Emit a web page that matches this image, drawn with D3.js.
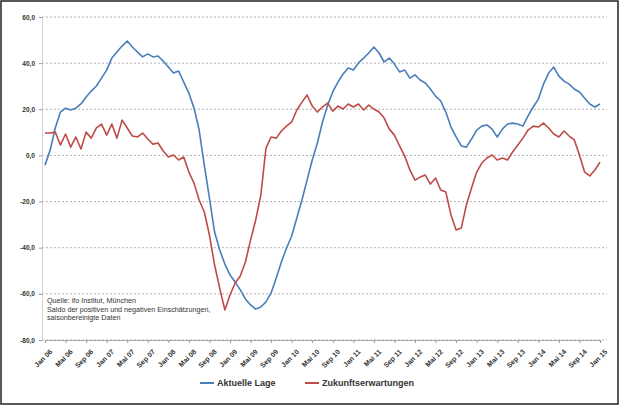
<!DOCTYPE html>
<html>
<head>
<meta charset="utf-8">
<script src="https://cdn.jsdelivr.net/npm/d3@7"></script>
<style>
  html, body { margin: 0; padding: 0; background: #fff; }
  svg { display: block; }
</style>
</head>
<body>
<svg id="chart" width="619" height="405"></svg>
<script>
// Monatswerte Januar 2006 bis Januar 2015
const startYear = 2006;
const monthNames = ["Jan", "Feb", "Mrz", "Apr", "Mai", "Jun", "Jul", "Aug", "Sep", "Okt", "Nov", "Dez"];

const aktuelleLage = [
  -4.2, 2.3, 11.9, 18.8, 20.5, 19.7, 20.5, 22.3, 25.3, 27.9, 30.1, 33.5,
  37.0, 42.2, 44.8, 47.4, 49.6, 47.0, 44.8, 42.7, 44.0, 42.7, 43.1, 40.9,
  38.3, 35.7, 36.6, 31.8, 27.0, 20.5, 11.0, -4.2, -18.5, -33.2, -41.0, -47.1,
  -51.8, -54.9, -58.3, -62.2, -64.8, -66.6, -65.7, -63.5, -59.6, -53.1, -46.2, -40.1,
  -34.9, -27.1, -19.3, -10.7, -2.0, 5.4, 14.5, 21.8, 27.5, 31.8, 35.3, 37.9,
  37.0, 40.1, 42.2, 44.4, 47.0, 44.4, 40.5, 42.2, 39.6, 36.2, 37.0, 33.5,
  34.9, 32.7, 31.4, 28.8, 25.7, 23.6, 18.8, 12.3, 8.0, 4.1, 3.6, 7.1,
  11.0, 12.7, 13.2, 11.4, 8.0, 11.4, 13.6, 14.0, 13.6, 12.7, 17.1, 21.0,
  24.4, 30.9, 35.7, 38.3, 34.4, 32.2, 30.9, 28.8, 27.5, 24.9, 22.3, 21.0,
  22.3
];

const zukunftserwartungen = [
  9.7, 9.7, 10.1, 4.5, 9.3, 3.6, 8.0, 2.8, 10.1, 7.5, 11.9, 13.6,
  8.8, 13.6, 7.5, 15.3, 11.9, 8.4, 8.0, 9.7, 7.1, 4.9, 5.4, 1.9,
  -0.7, 0.2, -2.0, -0.7, -7.2, -12.0, -19.3, -24.5, -34.5, -47.5, -57.5, -67.0,
  -60.5, -55.3, -52.3, -46.2, -36.7, -28.0, -17.2, 3.2, 8.0, 7.5, 10.6, 12.7,
  14.5, 19.7, 23.1, 26.2, 21.4, 18.8, 21.0, 22.7, 19.2, 21.4, 20.1, 22.3,
  21.0, 22.3, 19.7, 21.8, 20.1, 18.8, 16.2, 11.4, 8.8, 4.1, -0.3, -6.3,
  -10.7, -9.4, -8.5, -12.4, -9.8, -15.0, -15.9, -25.8, -32.3, -31.5, -21.5, -14.1,
  -7.2, -3.3, -1.1, 0.2, -2.0, -1.1, -2.0, 1.5, 4.5, 7.5, 11.0, 12.7,
  12.3, 14.0, 11.9, 9.3, 8.0, 10.6, 8.4, 6.7, 0.2, -7.2, -8.9, -6.3,
  -2.9
];

const yTicks = [60, 40, 20, 0, -20, -40, -60, -80];
const seriesNames = ["Aktuelle Lage", "Zukunftserwartungen"];
const seriesColors = ["#4a7ebb", "#be4b48"];
const sourceLines = [
  "Quelle: ifo Institut, München",
  "Saldo der positiven und negativen Einschätzungen,",
  "saisonbereinigte Daten"
];

// Monatskategorien und Achsenbeschriftungen (alle vier Monate)
const months = aktuelleLage.map((_, i) => i);
const monthLabel = i => monthNames[i % 12] + " " + String((startYear + Math.floor(i / 12)) % 100).padStart(2, "0");
const xTickIdx = months.filter(i => i % 4 === 0);

const svg = d3.select("#chart");
const W = 619, H = 405;
const margin = { left: 45, right: 19 };
const font = "'Liberation Sans', Arial, sans-serif";

// Rahmen
svg.append("rect")
  .attr("x", 1).attr("y", 1).attr("width", W - 2).attr("height", H - 2)
  .attr("fill", "#fff").attr("stroke", "#222").attr("stroke-width", 1.5);

const x = d3.scaleLinear()
  .domain([0, months.length - 1])
  .range([margin.left, W - margin.right]);

const y = d3.scaleLinear()
  .domain([-80, 60])
  .range([340, 17]);

const fmt = v => d3.format(".1f")(v).replace(".", ",").replace("−", "-");

// Gitternetz
svg.append("g")
  .selectAll("line")
  .data(yTicks)
  .join("line")
  .attr("x1", 42).attr("x2", W - 12)
  .attr("y1", d => y(d)).attr("y2", d => y(d))
  .attr("stroke", "#a0a0a0")
  .attr("stroke-width", 0.8)
  .attr("stroke-dasharray", "2,2");

// y-Achse
const yAxis = svg.append("g")
  .attr("transform", "translate(42,0)")
  .call(d3.axisLeft(y).tickValues(yTicks).tickFormat(fmt).tickSize(3).tickPadding(4));
yAxis.select(".domain").attr("stroke", "#c8c8c8").attr("stroke-width", 0.8);
yAxis.selectAll(".tick line").attr("stroke", "#999");
yAxis.selectAll("text")
  .attr("font-family", font).attr("font-size", 6.5).attr("font-weight", "bold").attr("fill", "#333");

// x-Achse
const xAxis = svg.append("g")
  .attr("transform", `translate(0,${y(-80)})`)
  .call(d3.axisBottom(x).tickValues(xTickIdx).tickFormat(monthLabel).tickSize(3).tickPadding(2));
xAxis.select(".domain").attr("stroke", "#999").attr("stroke-width", 0.8);
xAxis.selectAll(".tick line").attr("stroke", "#999");
xAxis.selectAll("text")
  .attr("font-family", font).attr("font-size", 7).attr("font-weight", "bold").attr("fill", "#333")
  .attr("text-anchor", "end")
  .attr("dy", "0.35em")
  .attr("transform", "translate(2,7) rotate(-45)");

// Linien
const line = d3.line().x((d, i) => x(i)).y(d => y(d));
[aktuelleLage, zukunftserwartungen].forEach((series, k) => {
  svg.append("path")
    .datum(series)
    .attr("fill", "none")
    .attr("stroke", seriesColors[k])
    .attr("stroke-width", 1.6)
    .attr("stroke-linejoin", "round")
    .attr("d", line);
});

// Quellenangabe
svg.append("g")
  .selectAll("text")
  .data(sourceLines)
  .join("text")
  .attr("x", 47)
  .attr("y", (d, i) => 303 + i * 8.5)
  .attr("font-family", font)
  .attr("font-size", 7.2)
  .attr("fill", "#333")
  .text(d => d);

// Legende
const legend = svg.append("g").attr("transform", "translate(0,383)");
const legendX = [200, 305];
seriesNames.forEach((name, k) => {
  legend.append("line")
    .attr("x1", legendX[k]).attr("x2", legendX[k] + 14)
    .attr("y1", 0).attr("y2", 0)
    .attr("stroke", seriesColors[k]).attr("stroke-width", 2);
  legend.append("text")
    .attr("x", legendX[k] + 17).attr("y", 0).attr("dy", "0.35em")
    .attr("font-family", font).attr("font-size", 9).attr("font-weight", "bold")
    .attr("fill", "#333")
    .text(name);
});
</script>
</body>
</html>
